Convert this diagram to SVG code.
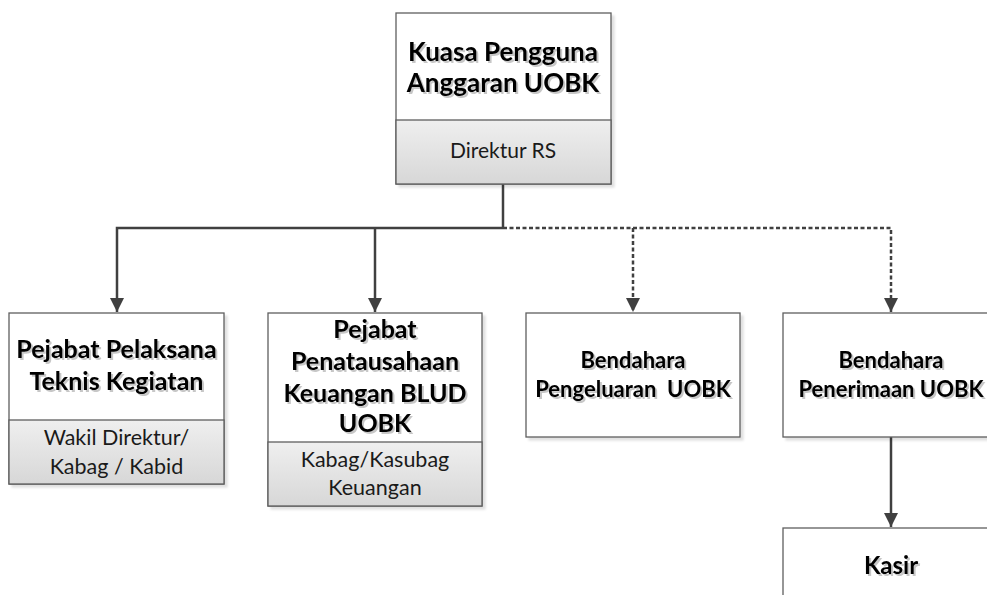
<svg xmlns="http://www.w3.org/2000/svg" width="987" height="595" viewBox="0 0 987 595">
<defs>
<linearGradient id="sub" x1="0" y1="0" x2="0" y2="1">
<stop offset="0" stop-color="#efefef"/>
<stop offset="1" stop-color="#d7d7d7"/>
</linearGradient>
<filter id="bsh" x="-5%" y="-5%" width="115%" height="115%">
<feDropShadow dx="3" dy="3" stdDeviation="1" flood-color="#000" flood-opacity="0.12"/>
</filter>
<filter id="tsh" x="-5%" y="-20%" width="115%" height="150%">
<feDropShadow dx="2" dy="2" stdDeviation="0.6" flood-color="#000" flood-opacity="0.22"/>
</filter>
<marker id="ah" viewBox="0 0 14 14" refX="14" refY="7" markerWidth="14" markerHeight="14" markerUnits="userSpaceOnUse" orient="auto">
<path d="M0,0 L14,7 L0,14 Z" fill="#404040"/>
</marker>
</defs>
<style>
.box{fill:#fff;stroke:#5f5f5f;stroke-width:1.3;filter:url(#bsh)}
.subbox{fill:url(#sub);stroke:#5f5f5f;stroke-width:1.3}
.t{font-family:Lato,"Open Sans",sans-serif;font-weight:bold;font-size:25px;fill:#000;text-anchor:middle;filter:url(#tsh)}
.t26{font-size:26px}
.t22{font-size:22px}
.t24{font-size:24px}
.s{font-family:Lato,"Open Sans",sans-serif;font-size:21.5px;fill:#1a1a1a;text-anchor:middle}
.ln{fill:none;stroke:#404040;stroke-width:2.5}
.dl{fill:none;stroke:#404040;stroke-width:2.5;stroke-dasharray:4 2.5}
</style>
<rect width="987" height="595" fill="#fff"/>
<g id="connectors">
<line class="ln" x1="503" y1="184" x2="503" y2="228"/>
<polyline class="ln" points="503,228 117,228 117,312" marker-end="url(#ah)"/>
<line class="ln" x1="375" y1="228" x2="375" y2="312" marker-end="url(#ah)"/>
<polyline class="dl" points="503,228 891,228 891,312" marker-end="url(#ah)"/>
<line class="dl" x1="633" y1="228" x2="633" y2="312" marker-end="url(#ah)"/>
<line class="ln" x1="891" y1="437" x2="891" y2="527" marker-end="url(#ah)"/>
</g>
<g id="kpa">
<rect class="box" x="396" y="13" width="215" height="171"/>
<rect class="subbox" x="396" y="120" width="215" height="64"/>
<text class="t t26" x="503" y="61">Kuasa Pengguna</text>
<text class="t t26" x="503" y="92">Anggaran UOBK</text>
<text class="s" x="503" y="158" style="font-size:21px">Direktur RS</text>
</g>
<g id="pptk">
<rect class="box" x="9" y="313" width="215" height="171"/>
<rect class="subbox" x="9" y="420" width="215" height="64"/>
<text class="t" x="116.5" y="358">Pejabat Pelaksana</text>
<text class="t" x="116.5" y="390">Teknis Kegiatan</text>
<text class="s" x="116.5" y="445">Wakil Direktur/</text>
<text class="s" x="116.5" y="474">Kabag / Kabid</text>
</g>
<g id="ppk">
<rect class="box" x="268" y="313" width="214" height="193"/>
<rect class="subbox" x="268" y="442" width="214" height="64"/>
<text class="t" x="375" y="338">Pejabat</text>
<text class="t" x="375" y="370">Penatausahaan</text>
<text class="t" x="375" y="402">Keuangan BLUD</text>
<text class="t" x="375" y="432">UOBK</text>
<text class="s" x="375" y="467">Kabag/Kasubag</text>
<text class="s" x="375" y="495">Keuangan</text>
</g>
<g id="bp">
<rect class="box" x="526" y="313" width="214" height="124"/>
<text class="t t22" x="633" y="368">Bendahara</text>
<text class="t t22" x="633" y="397" xml:space="preserve">Pengeluaran  UOBK</text>
</g>
<g id="bpn">
<rect class="box" x="783" y="313" width="216" height="124"/>
<text class="t t22" x="891" y="368">Bendahara</text>
<text class="t t22" x="891" y="397">Penerimaan UOBK</text>
</g>
<g id="kasir">
<rect class="box" x="783" y="528" width="216" height="100"/>
<text class="t t24" x="891" y="574">Kasir</text>
</g>
</svg>
